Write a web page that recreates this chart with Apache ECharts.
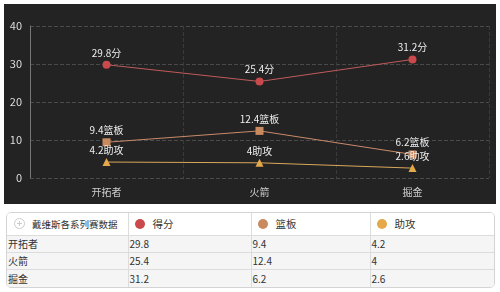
<!DOCTYPE html>
<html><head><meta charset="utf-8">
<script src="https://cdn.jsdelivr.net/npm/echarts@6/dist/echarts.min.js"></script>
<style>
html,body{margin:0;padding:0;background:#fff;width:500px;height:292px;overflow:hidden;font-family:"Noto Sans CJK SC",sans-serif;}
#chart{position:absolute;left:4px;top:4px;width:492px;height:200px;}
#tbl{position:absolute;left:6px;top:212px;width:487px;border:1px solid #d4d4d4;border-radius:5px;overflow:hidden;}
table{border-collapse:collapse;width:100%;font-size:10px;color:#333;table-layout:fixed;}
td{border:1px solid #dcdcdc;padding:0 1px;height:16px;line-height:16px;background:#f5f5f5;white-space:nowrap;overflow:hidden;}
tr:first-child td{border-top:none;background:#fff;height:22px;line-height:22px;font-size:10.5px;}
tr:first-child td:first-child{font-size:9.5px;}
td:first-child{border-left:none;}
td:last-child{border-right:none;}
tr:last-child td{border-bottom:none;height:17px;}
.dot{display:inline-block;width:10px;height:10px;border-radius:50%;vertical-align:-1px;margin:0 8px 0 5px;}
.icon{display:inline-block;width:9px;height:9px;border-radius:50%;border:1px solid #ccc;vertical-align:-1px;margin:0 7px 0 6px;position:relative;}
.icon:before{content:"";position:absolute;left:2px;top:4px;width:5px;height:1px;background:#ccc;}
.icon:after{content:"";position:absolute;left:4px;top:2px;width:1px;height:5px;background:#ccc;}
</style></head>
<body>
<div id="chart"></div>
<div id="tbl"></div>
<script>
var categories = ['开拓者', '火箭', '掘金'];
var seriesNames = ['得分', '篮板', '助攻'];
var scoreData = [29.8, 25.4, 31.2];
var reboundData = [9.4, 12.4, 6.2];
var assistData = [4.2, 4, 2.6];
var labelSuffix = ['分', '篮板', '助攻'];
var tableTitle = '戴维斯各系列赛数据';
var yTicks = [0, 10, 20, 30, 40];

var colors = ['#c9494c', '#c98a5e', '#e3a94a'];
var lineColors = ['#c25a5c', '#c98a6a', '#d9a75a'];
var symbols = ['circle', 'rect', 'triangle'];
var allData = [scoreData, reboundData, assistData];

var chart = echarts.init(document.getElementById('chart'));
chart.setOption({
  backgroundColor: '#232323',
  textStyle: {fontFamily: '"Noto Sans CJK SC", sans-serif'},
  grid: {left: 26, right: 7, top: 22, bottom: 26},
  xAxis: {
    type: 'category', data: categories, boundaryGap: true,
    axisLine: {show: false}, axisTick: {show: false},
    axisLabel: {color: '#ccc', fontSize: 10, margin: 9},
    splitLine: {show: true, lineStyle: {color: '#3a3a3a', type: 'dashed'}}
  },
  yAxis: {
    type: 'value', min: yTicks[0], max: yTicks[yTicks.length - 1], interval: 10,
    axisLine: {show: true, lineStyle: {color: '#777'}}, axisTick: {show: false},
    axisLabel: {color: '#ddd', fontSize: 11, margin: 8},
    splitLine: {show: true, lineStyle: {color: '#4a4a4a', type: 'dashed'}}
  },
  series: seriesNames.map(function (n, i) {
    return {
      name: n, type: 'line', data: allData[i],
      symbol: symbols[i], symbolSize: 8,
      itemStyle: {color: colors[i]},
      lineStyle: {color: lineColors[i], width: 1},
      label: {show: true, position: 'top', color: '#eee', fontSize: 10, distance: 3,
        formatter: function (p) { return p.value + labelSuffix[i]; }}
    };
  })
});

var html = '<table><colgroup><col style="width:121px"><col style="width:123px"><col style="width:119px"><col></colgroup>';
html += '<tr><td><span class="icon"></span>' + tableTitle + '</td>';
seriesNames.forEach(function (n, i) {
  html += '<td><span class="dot" style="background:' + colors[i] + '"></span>' + n + '</td>';
});
html += '</tr>';
categories.forEach(function (c, r) {
  html += '<tr><td>' + c + '</td>';
  allData.forEach(function (d) { html += '<td>' + d[r] + '</td>'; });
  html += '</tr>';
});
html += '</table>';
document.getElementById('tbl').innerHTML = html;
</script>
</body></html>
